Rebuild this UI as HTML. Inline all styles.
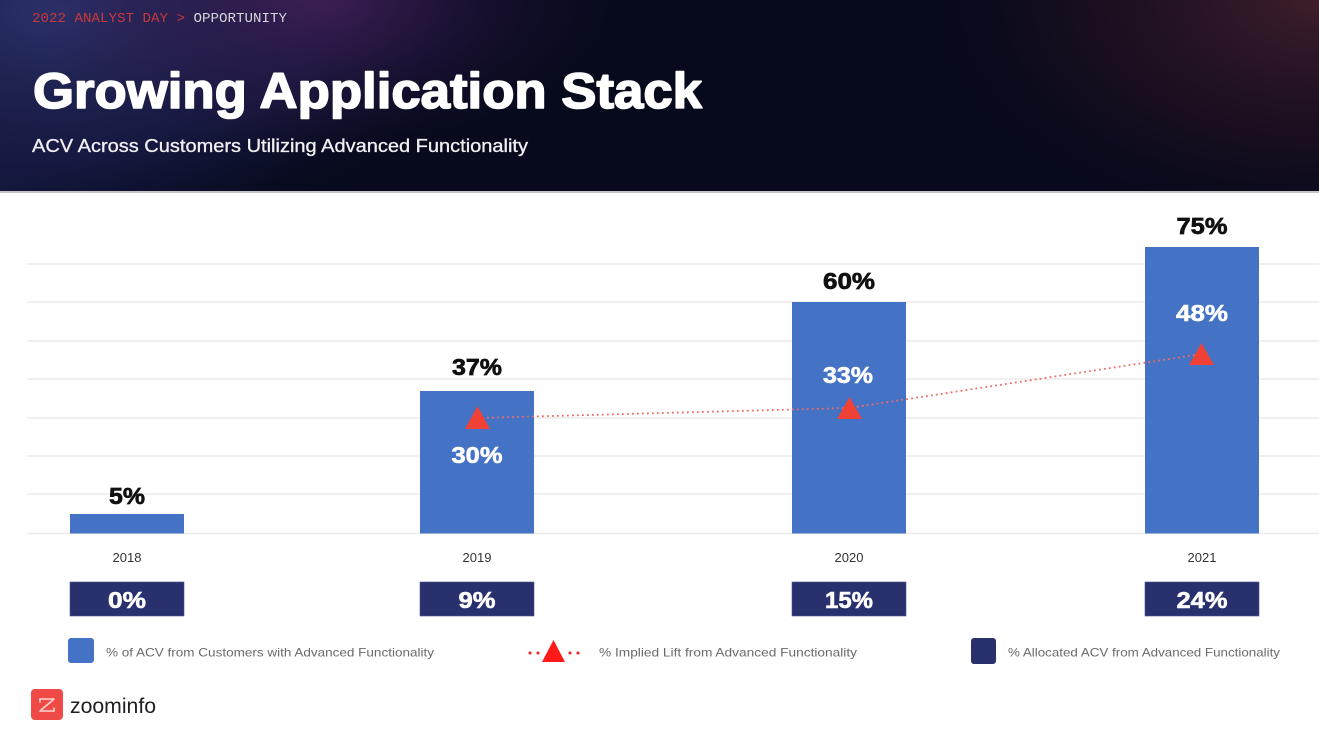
<!DOCTYPE html>
<html>
<head>
<meta charset="utf-8">
<style>
  html, body { margin:0; padding:0; background:#ffffff; }
  body { width:1319px; height:733px; overflow:hidden; }
  svg { display:block; }
  text { font-family: "Liberation Sans", "DejaVu Sans", sans-serif; }
</style>
</head>
<body>
<svg width="1319" height="733" viewBox="0 0 1319 733" xmlns="http://www.w3.org/2000/svg">
  <defs>
    <radialGradient id="gTL" cx="60" cy="10" r="440" gradientUnits="userSpaceOnUse" gradientTransform="translate(60 10) scale(1 0.55) translate(-60 -10)">
      <stop offset="0" stop-color="#2e3470" stop-opacity="0.95"/>
      <stop offset="0.6" stop-color="#1d2050" stop-opacity="0.6"/>
      <stop offset="1" stop-color="#0a0d26" stop-opacity="0"/>
    </radialGradient>
    <radialGradient id="gMag" cx="320" cy="0" r="300" gradientUnits="userSpaceOnUse" gradientTransform="translate(320 0) scale(1 0.5) translate(-320 0)">
      <stop offset="0" stop-color="#45205a" stop-opacity="0.8"/>
      <stop offset="1" stop-color="#2a1240" stop-opacity="0"/>
    </radialGradient>
    <radialGradient id="gTR" cx="1319" cy="0" r="420" gradientUnits="userSpaceOnUse" gradientTransform="translate(1319 0) scale(1 0.6) translate(-1319 0)">
      <stop offset="0" stop-color="#44202e" stop-opacity="0.9"/>
      <stop offset="0.6" stop-color="#2a1222" stop-opacity="0.45"/>
      <stop offset="1" stop-color="#0a0818" stop-opacity="0"/>
    </radialGradient>
    <radialGradient id="gBL" cx="0" cy="191" r="300" gradientUnits="userSpaceOnUse" gradientTransform="translate(0 191) scale(1 0.5) translate(0 -191)">
      <stop offset="0" stop-color="#141a44" stop-opacity="0.8"/>
      <stop offset="1" stop-color="#0a0d26" stop-opacity="0"/>
    </radialGradient>
  </defs>

  <!-- Header -->
  <rect x="0" y="0" width="1319" height="192" fill="#060a1c"/>
  <rect x="0" y="0" width="1319" height="192" fill="url(#gBL)"/>
  <rect x="0" y="0" width="1319" height="192" fill="url(#gTL)"/>
  <rect x="0" y="0" width="1319" height="192" fill="url(#gMag)"/>
  <rect x="0" y="0" width="1319" height="192" fill="url(#gTR)"/>
  <rect x="0" y="191" width="1319" height="2" fill="#c4c4c8"/>

  <text x="32" y="22" font-size="14" textLength="255" lengthAdjust="spacingAndGlyphs" style="font-family:'Liberation Mono', monospace"><tspan fill="#c8393c">2022 ANALYST DAY &gt; </tspan><tspan fill="#d6d6da">OPPORTUNITY</tspan></text>

  <text x="33" y="108" font-size="50" font-weight="bold" fill="#ffffff" stroke="#ffffff" stroke-width="1.6" stroke-linejoin="round" textLength="669" lengthAdjust="spacingAndGlyphs">Growing Application Stack</text>
  <text x="32" y="152" font-size="18" fill="#f0f0f2" stroke="#f0f0f2" stroke-width="0.3" textLength="496" lengthAdjust="spacingAndGlyphs">ACV Across Customers Utilizing Advanced Functionality</text>

  <!-- Gridlines -->
  <g stroke="#ececec" stroke-width="1.5">
    <line x1="27" y1="264" x2="1319" y2="264"/>
    <line x1="27" y1="302" x2="1319" y2="302"/>
    <line x1="27" y1="341" x2="1319" y2="341"/>
    <line x1="27" y1="379" x2="1319" y2="379"/>
    <line x1="27" y1="418" x2="1319" y2="418"/>
    <line x1="27" y1="456" x2="1319" y2="456"/>
    <line x1="27" y1="494" x2="1319" y2="494"/>
    <line x1="27" y1="533.5" x2="1319" y2="533.5"/>
  </g>

  <!-- Bars -->
  <g fill="#4472c4">
    <rect x="70" y="514" width="114" height="19.5"/>
    <rect x="420" y="391" width="114" height="142.5"/>
    <rect x="792" y="302" width="114" height="231.5"/>
    <rect x="1145" y="247" width="114" height="286.5"/>
  </g>

  <!-- Top labels -->
  <g font-size="23" font-weight="bold" fill="#111111" stroke="#111111" stroke-width="0.7" text-anchor="middle">
    <text x="127" y="504" textLength="36" lengthAdjust="spacingAndGlyphs">5%</text>
    <text x="477" y="375" textLength="50" lengthAdjust="spacingAndGlyphs">37%</text>
    <text x="849" y="289" textLength="52" lengthAdjust="spacingAndGlyphs">60%</text>
    <text x="1202" y="234" textLength="51" lengthAdjust="spacingAndGlyphs">75%</text>
  </g>

  <!-- Inner labels -->
  <g font-size="23" font-weight="bold" fill="#ffffff" stroke="#ffffff" stroke-width="0.6" text-anchor="middle">
    <text x="477" y="463" textLength="51" lengthAdjust="spacingAndGlyphs">30%</text>
    <text x="848" y="383" textLength="50" lengthAdjust="spacingAndGlyphs">33%</text>
    <text x="1202" y="321" textLength="52" lengthAdjust="spacingAndGlyphs">48%</text>
  </g>

  <!-- Dotted line -->
  <polyline points="477,418 849,408 1202,354" fill="none" stroke="#f06a66" stroke-width="1.8" stroke-dasharray="1.8 3.2"/>

  <!-- Triangles -->
  <g fill="#ef4136">
    <polygon points="465,429 490,429 477.5,406"/>
    <polygon points="837,419 862,419 849.5,397"/>
    <polygon points="1189,365 1214,365 1201.5,343"/>
  </g>

  <!-- Year labels -->
  <g font-size="13" fill="#333333" text-anchor="middle">
    <text x="127" y="562">2018</text>
    <text x="477" y="562">2019</text>
    <text x="849" y="562">2020</text>
    <text x="1202" y="562">2021</text>
  </g>

  <!-- Allocated boxes -->
  <g fill="#28306e" stroke="#4a5290" stroke-width="0.6">
    <rect x="70" y="582" width="114" height="34"/>
    <rect x="420" y="582" width="114" height="34"/>
    <rect x="792" y="582" width="114" height="34"/>
    <rect x="1145" y="582" width="114" height="34"/>
  </g>
  <g font-size="23" font-weight="bold" fill="#ffffff" stroke="#ffffff" stroke-width="0.6" text-anchor="middle">
    <text x="127" y="608" textLength="38" lengthAdjust="spacingAndGlyphs">0%</text>
    <text x="477" y="608" textLength="37" lengthAdjust="spacingAndGlyphs">9%</text>
    <text x="849" y="608" textLength="48" lengthAdjust="spacingAndGlyphs">15%</text>
    <text x="1202" y="608" textLength="51" lengthAdjust="spacingAndGlyphs">24%</text>
  </g>

  <!-- Legend -->
  <rect x="68" y="638" width="26" height="25" rx="3" fill="#4472c4"/>
  <text x="106" y="656.5" font-size="12" fill="#6a6a6a" textLength="328" lengthAdjust="spacingAndGlyphs">% of ACV from Customers with Advanced Functionality</text>

  <g fill="#ff1a1a">
    <circle cx="530" cy="653" r="1.5"/>
    <circle cx="538" cy="653" r="1.5"/>
    <circle cx="570" cy="653" r="1.5"/>
    <circle cx="578" cy="653" r="1.5"/>
    <polygon points="542,662 565,662 553.5,640"/>
  </g>
  <text x="599" y="656.5" font-size="12" fill="#6a6a6a" textLength="258" lengthAdjust="spacingAndGlyphs">% Implied Lift from Advanced Functionality</text>

  <rect x="971" y="638" width="25" height="26" rx="3" fill="#28306e"/>
  <text x="1008" y="656.5" font-size="12" fill="#6a6a6a" textLength="272" lengthAdjust="spacingAndGlyphs">% Allocated ACV from Advanced Functionality</text>

  <!-- Logo -->
  <rect x="31" y="689" width="32" height="31" rx="4" fill="#f04a46"/>
  <g stroke="#ffd6d4" stroke-width="1.6" fill="none" stroke-linecap="round">
    <polyline points="40,699 54,699"/>
    <polyline points="40,711 54,711"/>
    <polyline points="53,700 41,710"/>
    <polyline points="40,699 40,702"/>
    <polyline points="54,711 54,708"/>
  </g>
  <text x="70" y="713" font-size="21" fill="#1e1e24" textLength="86" lengthAdjust="spacingAndGlyphs">zoominfo</text>
</svg>
</body>
</html>
